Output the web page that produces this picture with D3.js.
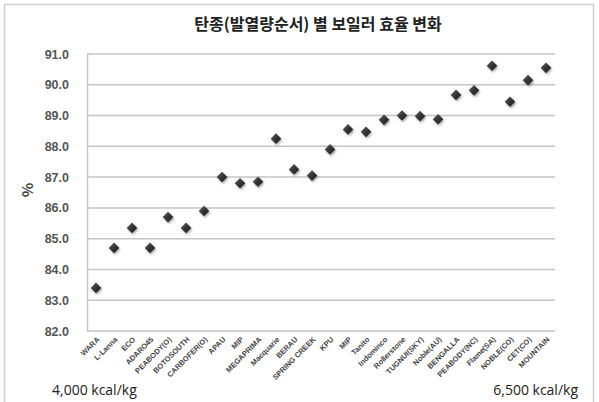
<!DOCTYPE html>
<html><head><meta charset="utf-8">
<script src="https://cdn.jsdelivr.net/npm/d3@7"></script>
<style>body{margin:0;background:#fff;font-family:"Noto Sans CJK KR","Noto Sans",sans-serif;}</style>
</head><body><svg id="c" width="599" height="402"></svg>
<script>
const categories = ["WARA","L-Lanna","ECO","ADARO45","PEABODY(O)","BOTOSOUTH","CARBOFER(O)","APAU","MIP","MEGAPRIMA","Macquarie","BERAU","SPRING CREEK","KPU","MIP ","Tanito","Indominco","Rollerstone","TUGNUI(SKY)","Noble(AU)","BENGALLA","PEABODY(NC)","Flame(SA)","NOBLE(CO)","CET(CO)","MOUNTAIN"];
const efficiency = [83.4,84.7,85.35,84.7,85.7,85.35,85.9,87.0,86.8,86.85,88.25,87.25,87.05,87.9,88.55,88.47,88.86,89.0,88.98,88.88,89.67,89.82,90.62,89.45,90.15,90.55];
const yTicks = [82,83,84,85,86,87,88,89,90,91];
const title = "탄종(발열량순서) 별 보일러 효율 변화";
const yLabel = "%";
const leftNote = "4,000 kcal/kg";
const rightNote = "6,500 kcal/kg";

const svg = d3.select("#c");
const m = {l:87, r:555, t:54, b:331};
const x = d3.scaleBand().domain(categories.map((c,i)=>i)).range([m.l,m.r]);
const y = d3.scaleLinear().domain([82,91]).range([m.b,m.t]);

const defs = svg.append("defs");
const f = defs.append("filter").attr("id","sh").attr("x","-50%").attr("y","-50%").attr("width","200%").attr("height","200%");
f.append("feDropShadow").attr("dx",1).attr("dy",1.5).attr("stdDeviation",1.2).attr("flood-color","#000").attr("flood-opacity",0.35);
const g1 = defs.append("linearGradient").attr("id","dg").attr("x1","0").attr("y1","0").attr("x2","1").attr("y2","1");
g1.append("stop").attr("offset","0").attr("stop-color","#666");
g1.append("stop").attr("offset","0.5").attr("stop-color","#333");
g1.append("stop").attr("offset","1").attr("stop-color","#222");

// outer frame
svg.append("rect").attr("x",4.5).attr("y",4.5).attr("width",589).attr("height",410)
  .attr("fill","#fff").attr("stroke","#cfcfcf").attr("stroke-width",1.5);

svg.append("text").attr("x",318).attr("y",30).attr("text-anchor","middle")
  .attr("font-size",16).attr("font-weight","bold").attr("fill","#222").text(title);

// gridlines
svg.append("g").selectAll("line").data(yTicks).join("line")
  .attr("x1",m.l).attr("x2",m.r).attr("y1",d=>y(d)).attr("y2",d=>y(d))
  .attr("stroke","#c4c4c4").attr("stroke-width",1.5);

// y axis
const ya = svg.append("g").attr("transform",`translate(${m.l},0)`)
  .call(d3.axisLeft(y).tickValues(yTicks).tickFormat(d3.format(".1f")).tickSize(0).tickPadding(18));
ya.select(".domain").attr("stroke","#c4c4c4").attr("stroke-width",1.5);
ya.selectAll("text").attr("font-size",12.5).attr("font-weight","bold").attr("fill","#555")
  .attr("font-family","'Liberation Sans',Arial,sans-serif");

// x axis labels
const xa = svg.append("g").attr("transform",`translate(0,${m.b})`)
  .call(d3.axisBottom(x).tickFormat(i=>categories[i].trim()).tickSize(0));
xa.select(".domain").remove();
xa.selectAll("text").attr("font-size",7.5).attr("font-weight","bold").attr("fill","#444").attr("font-family","'Liberation Sans',Arial,sans-serif")
  .attr("text-anchor","end").attr("dy",0).attr("y",0)
  .attr("transform","translate(4,9) rotate(-45)");

svg.append("text").attr("transform","translate(33,190) rotate(-90)").attr("text-anchor","middle")
  .attr("font-size",15).attr("font-weight","bold").attr("fill","#444").text(yLabel);

// points
svg.append("g").selectAll("path").data(efficiency).join("path")
  .attr("d",d3.symbol().type(d3.symbolDiamond2).size(72))
  .attr("transform",(d,i)=>`translate(${x(i)+x.bandwidth()/2},${y(d)})`)
  .attr("fill","url(#dg)").attr("filter","url(#sh)");

svg.append("text").attr("x",52).attr("y",395).attr("font-size",14).attr("fill","#222")
  .attr("font-family","'Open Sans',sans-serif").text(leftNote);
svg.append("text").attr("x",578).attr("y",395).attr("text-anchor","end").attr("font-size",14).attr("fill","#222")
  .attr("font-family","'Open Sans',sans-serif").text(rightNote);
</script></body></html>
